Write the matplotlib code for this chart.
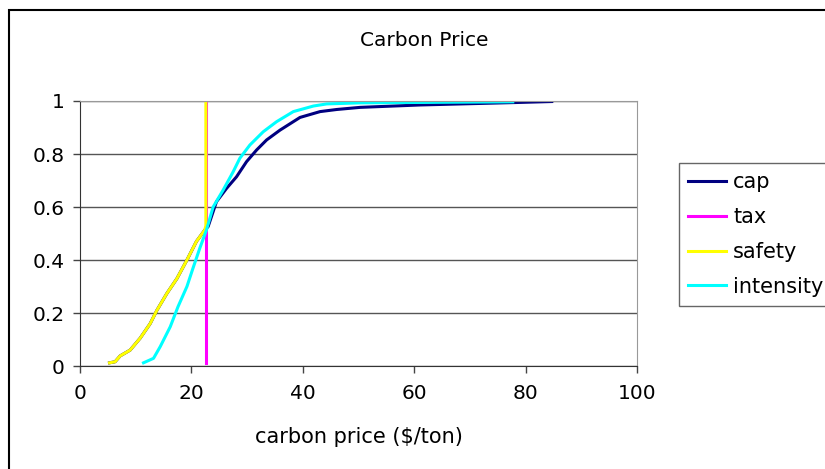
import matplotlib.pyplot as plt
from matplotlib.patches import Rectangle

# cumulative distributions
safety_x = [5.3, 6.3, 7.2, 9.0, 10.8, 12.6, 13.8, 15.6, 17.4, 19.2, 20.9, 22.4, 22.6, 22.6]
safety_y = [0.012, 0.016, 0.038, 0.06, 0.105, 0.16, 0.21, 0.274, 0.33, 0.40, 0.47, 0.513, 0.53, 1.0]

cap_x = [5.3, 6.3, 7.2, 9.0, 10.8, 12.6, 13.8, 15.6, 17.4, 19.2, 20.9, 22.4, 23.0, 24.5, 26.3, 28.1,
         29.9, 31.7, 33.5, 35.9, 39.5, 43.1, 46.1, 50.3, 61.0, 77.8, 84.7]
cap_y = [0.012, 0.016, 0.038, 0.06, 0.105, 0.16, 0.21, 0.274, 0.33, 0.40, 0.47, 0.513, 0.526, 0.62,
         0.67, 0.714, 0.771, 0.815, 0.853, 0.89, 0.938, 0.96, 0.968, 0.976, 0.985, 0.994, 0.998]

tax_x = [22.6, 22.6]
tax_y = [0.01, 1.0]

intensity_x = [11.4, 13.2, 14.4, 16.2, 17.6, 19.2, 20.3, 21.5, 22.7, 23.9, 25.7, 27.5, 28.7, 30.5,
               32.9, 35.3, 38.3, 41.9, 44.3, 50.3, 77.7]
intensity_y = [0.012, 0.029, 0.073, 0.148, 0.224, 0.30, 0.37, 0.444, 0.513, 0.60, 0.664, 0.733,
               0.784, 0.834, 0.884, 0.922, 0.96, 0.981, 0.989, 0.993, 0.997]

series = [
    ('cap', cap_x, cap_y, '#000080'),
    ('tax', tax_x, tax_y, '#ff00ff'),
    ('safety', safety_x, safety_y, '#ffff00'),
    ('intensity', intensity_x, intensity_y, '#00ffff'),
]

fig = plt.figure(figsize=(8.25, 4.69), dpi=100)
ax = fig.add_axes([80 / 825, 1 - 366 / 469, (637 - 80) / 825, (366 - 101) / 469])

for name, xs, ys, col in series:
    ax.plot(xs, ys, color=col, lw=2.2, label=name, solid_joinstyle='round')

ax.set_xlim(0, 100)
ax.set_ylim(0, 1)
ax.set_xticks([0, 20, 40, 60, 80, 100])
ax.set_yticks([0, 0.2, 0.4, 0.6, 0.8, 1.0])
ax.set_yticklabels(['0', '0.2', '0.4', '0.6', '0.8', '1'])
ax.tick_params(labelsize=14.5, length=5, width=1, color='#444444')
ax.tick_params(axis='x', pad=8)
ax.tick_params(axis='y', pad=6)
ax.yaxis.grid(True, color='#555555', lw=1)
ax.set_axisbelow(True)
for s in ['top', 'right']:
    ax.spines[s].set_color('#999999')
for s in ['left', 'bottom']:
    ax.spines[s].set_color('#333333')

fig.text(424 / 825, 1 - 40 / 469, 'Carbon Price', ha='center', va='center', fontsize=14.5)
fig.text(359 / 825, 1 - 437 / 469, 'carbon price ($/ton)', ha='center', va='center', fontsize=15)

ax.legend(loc='upper left', bbox_to_anchor=(679 / 825, 1 - 163 / 469), bbox_transform=fig.transFigure,
          fancybox=False, edgecolor='#666666', framealpha=1, fontsize=15, handlelength=1.8,
          handletextpad=0.35, labelspacing=0.71, borderaxespad=0, borderpad=0.45)

fig.patches.append(Rectangle((9 / 825, -0.1), 1.2, 1.1 - 10 / 469, transform=fig.transFigure,
                             fill=False, ec='black', lw=1.5))

fig.savefig('out.png', dpi=100)
